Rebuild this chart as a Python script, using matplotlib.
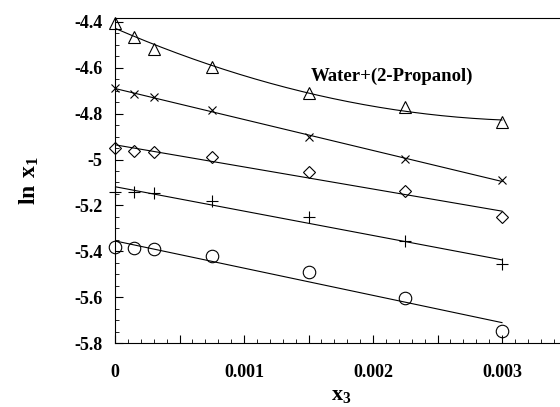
import numpy as np
import matplotlib
matplotlib.use("Agg")
import matplotlib.pyplot as plt
from matplotlib.ticker import MultipleLocator, FuncFormatter

plt.rcParams["font.family"] = ["Liberation Serif", "DejaVu Serif"]
plt.rcParams["mathtext.fontset"] = "custom"
plt.rcParams["mathtext.rm"] = "Liberation Serif"
plt.rcParams["mathtext.bf"] = "Liberation Serif:bold"

# ---------- data ----------
x3 = [0, 0.00015, 0.0003, 0.00075, 0.0015, 0.00225, 0.003]
y_tri = [-4.405, -4.466, -4.518, -4.597, -4.710, -4.771, -4.837]
y_cross = [-4.690, -4.714, -4.727, -4.784, -4.902, -4.998, -5.090]
y_diam = [-4.950, -4.963, -4.968, -4.990, -5.055, -5.138, -5.252]
y_plus = [-5.142, -5.142, -5.147, -5.180, -5.250, -5.356, -5.457]
y_circ = [-5.383, -5.387, -5.389, -5.422, -5.492, -5.605, -5.749]

series = [
    (y_tri, "^", 8.5, 2),
    (y_cross, "x", 5.5, 1),
    (y_diam, "D", 6.5, 1),
    (y_plus, "+", 9, 1),
    (y_circ, "o", 9, 1),
]

fig = plt.figure(figsize=(5.6, 4.07), dpi=100)
ax = fig.add_axes([0.2054, 0.1572, 0.8062, 0.7986])

xs = np.linspace(0, 0.003, 200)
for ys, mk, ms, deg in series:
    coef = np.polyfit(x3, ys, deg)
    ax.plot(xs, np.polyval(coef, xs), color="black", lw=0.8)
    ax.plot(x3, ys, linestyle="none", marker=mk, ms=ms, mfc="none",
            mec="black", mew=0.8, clip_on=False)

ax.set_xlim(0, 0.0035)
ax.set_ylim(-5.8, -4.3826)

ax.xaxis.set_major_locator(MultipleLocator(0.0005))
ax.xaxis.set_minor_locator(MultipleLocator(0.0001))
ax.yaxis.set_major_locator(MultipleLocator(0.2))
ax.yaxis.set_minor_locator(MultipleLocator(0.05))

def xfmt(v, pos):
    k = round(v / 0.001, 6)
    if abs(k - round(k)) > 1e-6:
        return ""
    return "0" if round(k) == 0 else f"{v:.3f}"

def yfmt(v, pos):
    s = f"{v:.1f}"
    return "-5" if s == "-5.0" else s

ax.xaxis.set_major_formatter(FuncFormatter(xfmt))
ax.yaxis.set_major_formatter(FuncFormatter(yfmt))

ax.tick_params(which="both", direction="in", top=False, right=False)
ax.tick_params(which="major", length=6, width=0.8, labelsize=13)
ax.tick_params(axis="y", which="major", pad=9)
ax.tick_params(axis="x", which="major", pad=15)
ax.tick_params(which="minor", length=3, width=0.6)
for lab in ax.get_xticklabels() + ax.get_yticklabels():
    lab.set_fontweight("bold")
ax.spines["right"].set_visible(False)
for sp in ["left", "bottom", "top"]:
    ax.spines[sp].set_linewidth(0.8)

ax.set_xlabel(r"$\mathbf{x_3}$", fontsize=16, labelpad=4)
ax.set_ylabel(r"$\mathbf{ln\ x_1}$", fontsize=17, labelpad=24)

ax.text(0.00152, -4.655, "Water+(2-Propanol)", fontsize=13.5, fontweight="bold")

fig.savefig("out.png", dpi=100)
